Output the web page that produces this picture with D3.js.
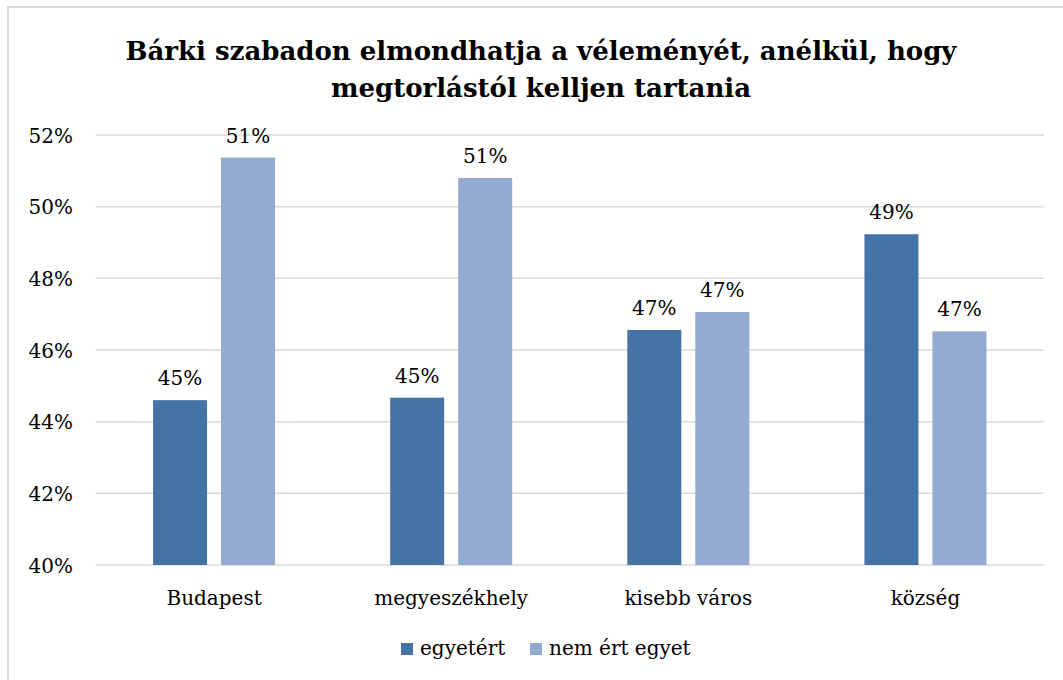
<!DOCTYPE html>
<html>
<head>
<meta charset="utf-8">
<script src="https://cdn.jsdelivr.net/npm/d3@7"></script>
<style>
  body { margin: 0; background: #fff; }
  text { font-family: "DejaVu Serif", "Liberation Serif", serif; fill: #000; }
</style>
</head>
<body>
<div id="chart"></div>
<script>
(function(){
    var width = 1063,
        height = 680;

    // data
    var categories = ["Budapest", "megyeszékhely", "kisebb város", "község"];
    var seriesNames = ["egyetért", "nem ért egyet"];
    var egyetert = [0.4460, 0.4467, 0.4656, 0.4923];
    var nemErtEgyet = [0.5137, 0.5080, 0.4706, 0.4652];
    var tickValues = [0.40, 0.42, 0.44, 0.46, 0.48, 0.50, 0.52];
    var titleLines = ["Bárki szabadon elmondhatja a véleményét, anélkül, hogy",
                      "megtorlástól kelljen tartania"];

    var colors = ["#4673a6", "#95aad0"];

    var svg = d3.select("#chart")
        .append("svg")
        .attr("width", width)
        .attr("height", height);

    // chart frame (only left/top visible, rest cropped)
    svg.append("rect")
        .attr("x", 8).attr("y", 7)
        .attr("width", width + 20).attr("height", height + 20)
        .attr("fill", "#fff")
        .attr("stroke", "#d9d9d9")
        .attr("stroke-width", 2)

    var plotLeft = 95.5, plotRight = 1044;

    var y = d3.scaleLinear().domain([0.40, 0.52]).range([565, 135]);

    var x0 = d3.scaleBand()
        .domain(categories)
        .range([plotLeft, plotRight])
        .padding(0);

    var x1 = d3.scaleBand()
        .domain(seriesNames)
        .range([-61, 61])
        .paddingInner(0.206)
        .paddingOuter(0);

    // gridlines
    svg.append("g")
        .selectAll("line")
        .data(tickValues)
        .enter().append("line")
        .attr("x1", plotLeft)
        .attr("x2", plotRight)
        .attr("y1", function(d){ return y(d) })
        .attr("y2", function(d){ return y(d) })
        .attr("stroke", "#d9d9d9")
        .attr("stroke-width", 1.5);

    // y axis labels
    var yAxis = d3.axisLeft(y)
        .tickValues(tickValues)
        .tickFormat(d3.format(".0%"))
        .tickSize(0)
        .tickPadding(0);

    var gy = svg.append("g")
        .attr("transform", "translate(73,0)")
        .call(yAxis);
    gy.select(".domain").remove();
    gy.selectAll("text")
        .attr("font-size", 20)
        .attr("fill", "#000")
        .attr("dy", "0.36em");

    // x axis labels
    var xAxis = d3.axisBottom(x0).tickSize(0).tickPadding(0);
    var gx = svg.append("g")
        .attr("transform", "translate(0,605)")
        .call(xAxis);
    gx.select(".domain").remove();
    gx.selectAll("text")
        .attr("font-size", 20)
        .attr("fill", "#000")
        .attr("dy", "0");

    var rows = categories.map(function(c, i){
        return { cat: c, values: [egyetert[i], nemErtEgyet[i]] };
    });

    var groups = svg.selectAll(".grp")
        .data(rows)
        .enter().append("g")
        .attr("class", "grp")
        .attr("transform", function(d){
            return "translate(" + (x0(d.cat) + x0.bandwidth() / 2) + ",0)";
        });

    var fmt = d3.format(".0%");

    groups.selectAll("rect")
        .data(function(d){ return d.values.map(function(v, j){ return { s: seriesNames[j], v: v, j: j } }) })
        .enter().append("rect")
        .attr("x", function(d){ return x1(d.s) })
        .attr("width", x1.bandwidth())
        .attr("y", function(d){ return y(d.v) })
        .attr("height", function(d){ return y(0.40) - y(d.v) })
        .attr("fill", function(d){ return colors[d.j] });

    groups.selectAll(".lbl")
        .data(function(d){ return d.values.map(function(v, j){ return { s: seriesNames[j], v: v } }) })
        .enter().append("text")
        .attr("class", "lbl")
        .attr("x", function(d){ return x1(d.s) + x1.bandwidth() / 2 })
        .attr("y", function(d){ return y(d.v) - 15 })
        .attr("text-anchor", "middle")
        .attr("font-size", 20)
        .text(function(d){ return fmt(d.v) });

    // title
    svg.append("text")
        .attr("x", 541)
        .attr("text-anchor", "middle")
        .attr("font-size", 26)
        .attr("font-weight", "bold")
        .selectAll("tspan")
        .data(titleLines)
        .enter().append("tspan")
        .attr("x", 541)
        .attr("y", function(d, i){ return 59.5 + i * 37 })
        .text(function(d){ return d });

    // legend
    var legendX = [401, 530];
    var legend = svg.selectAll(".leg")
        .data(seriesNames)
        .enter().append("g")
        .attr("class", "leg")
        .attr("transform", function(d, i){ return "translate(" + legendX[i] + ",643)" });
    legend.append("rect")
        .attr("width", 12).attr("height", 12)
        .attr("fill", function(d, i){ return colors[i] });
    legend.append("text")
        .attr("x", 19)
        .attr("y", 11.5)
        .attr("font-size", 20)
        .text(function(d){ return d });
})();
</script>
</body>
</html>
